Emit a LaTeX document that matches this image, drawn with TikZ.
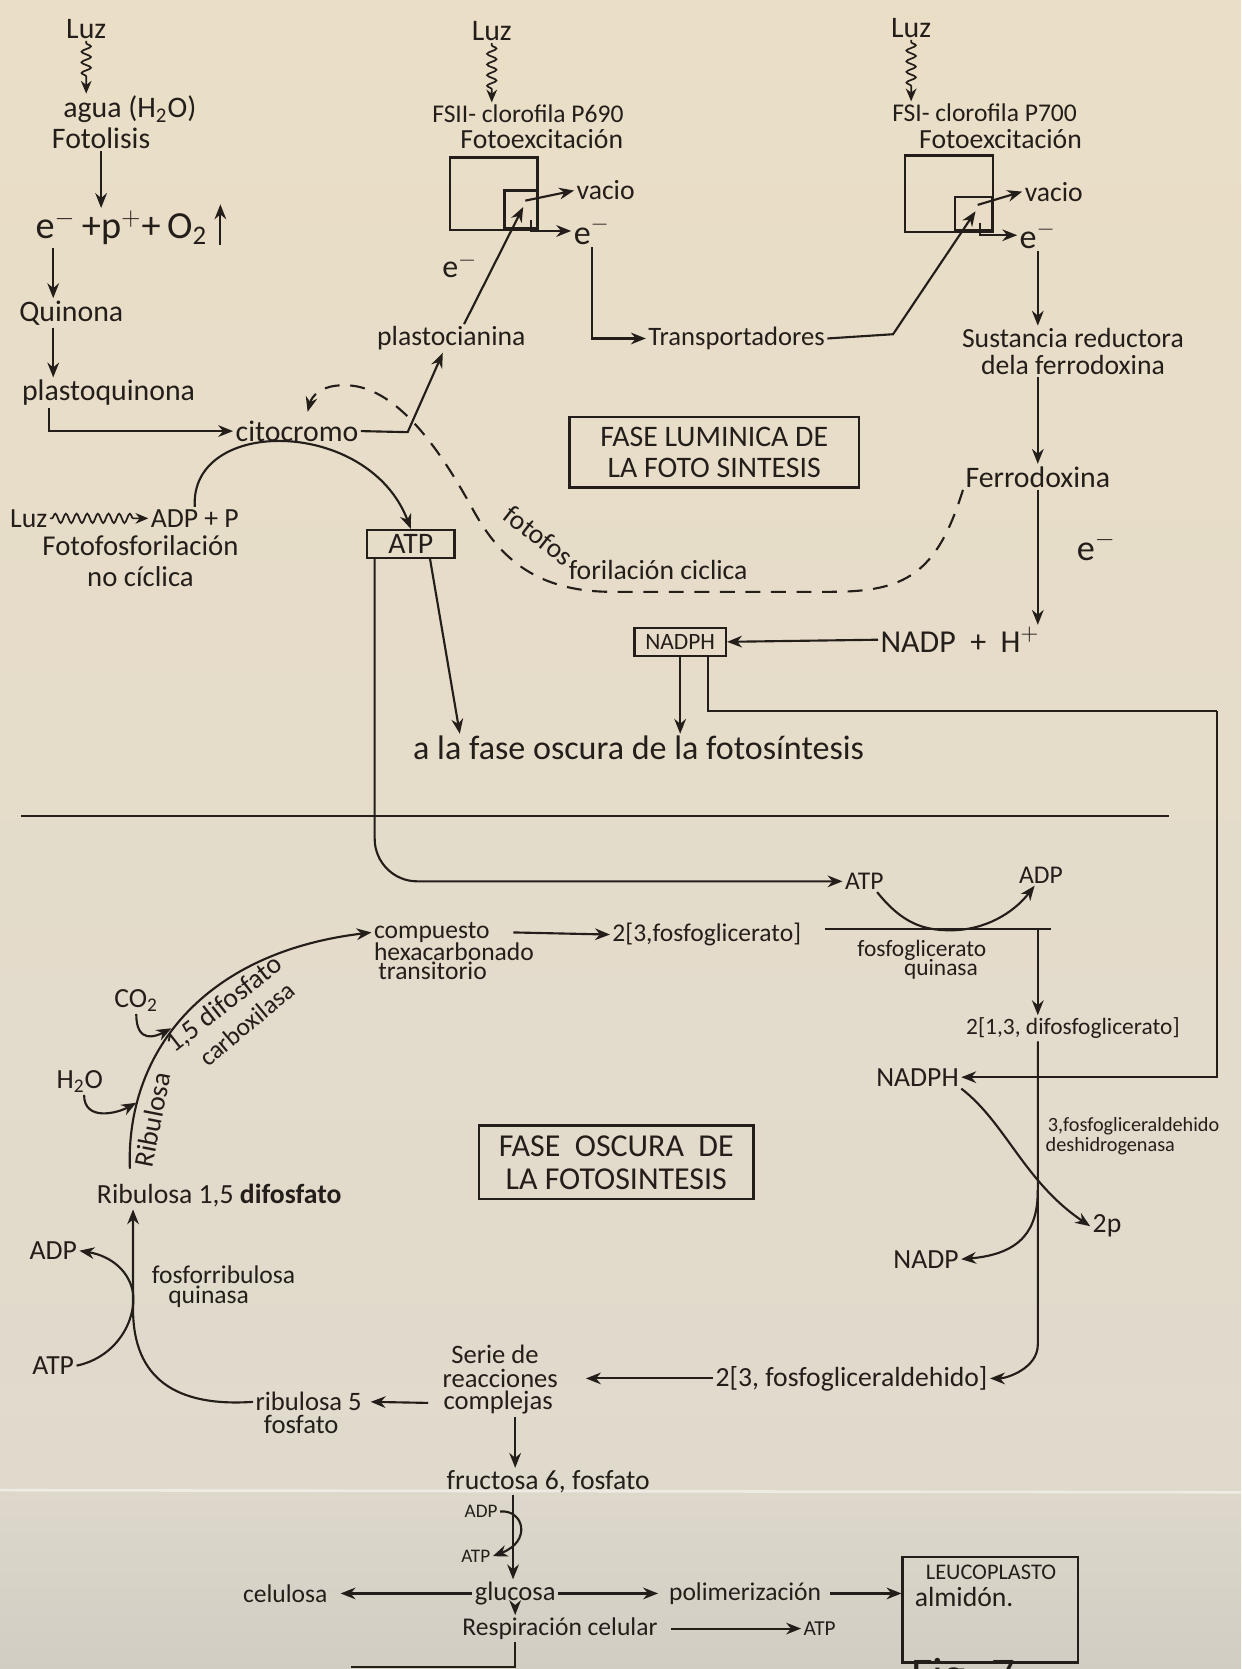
\documentclass[tikz,border=0pt]{standalone}
\usepackage{fontspec}
\setmainfont{Carlito}
\usetikzlibrary{arrows.meta,decorations.pathmorphing,decorations.text,calc}
\definecolor{ink}{RGB}{36,30,26}
\definecolor{paperA}{RGB}{234,222,198}
\definecolor{paperM}{RGB}{224,218,205}
\definecolor{paperB}{RGB}{210,205,195}
\newcommand{\fsBase}{\fontsize{14}{15}\selectfont}
\newcommand{\fsCyc}{\fontsize{13}{13}\selectfont}
\begin{document}
\begin{tikzpicture}[x=0.5pt,y=-0.5pt,
  lbl/.style={inner sep=1pt,text=ink,font=\fsBase},
  fsz/.style={font=\fontsize{#1}{#1}\selectfont},
  arr/.style={draw=ink,line width=1pt,-{Stealth[length=7pt,width=5.5pt]}},
  ln/.style={draw=ink,line width=1pt},
  boxn/.style={draw=ink,line width=1.1pt,inner sep=2pt,text=ink},
  wavy/.style={draw=ink,line width=0.8pt,decorate,decoration={snake,amplitude=2.2pt,segment length=5pt,pre length=1pt,post length=6pt},-{Stealth[length=6pt,width=5pt]}},
  dsh/.style={draw=ink,line width=1pt,dash pattern=on 7pt off 5pt}]
\useasboundingbox (0,0) rectangle (1166,1568);
\shade[top color=paperA,bottom color=paperM] (0,0) rectangle (1166,1400);
\shade[top color=paperM!85!paperB,bottom color=paperB] (0,1400) rectangle (1166,1568);
\draw[white,opacity=0.5,line width=1.2pt] (0,1400) -- (1166,1402);

% ===== light phase, left column
\node[lbl] (luzA) at (81,27) {Luz};
\node[lbl] (agua) at (122,103) {agua (H\textsubscript{2}O)};
\node[lbl] (fotolisis) at (95,130) {Fotolisis};
\draw[wavy] (luzA.south) -- (luzA.south |- agua.north);
\node[lbl,fsz=18,anchor=west] (epo) at (31,214) {e$^{-}$\,+p$^{+}$+\,O\textsubscript{2}};
\draw[arr] ([xshift=5pt,yshift=-8pt]epo.east) -- ++(0,-38);
\draw[arr] (fotolisis.south) -- (fotolisis.south |- epo.north);
\coordinate (gxA) at (50,0);
\node[lbl] (quinona) at (67,294) {Quinona};
\node[lbl] (plastoq) at (102,369) {plastoquinona};
\draw[arr] (epo.south -| gxA) -- (quinona.north -| gxA);
\draw[arr] (quinona.south -| gxA) -- (plastoq.north -| gxA);
\node[lbl] (citocromo) at (279,405) {citocromo};
\coordinate (gxB) at (46,0);
\draw[arr] (plastoq.south -| gxB) |- (citocromo.west);
\node[lbl,fsz=13] (plastoc) at (424,318) {plastocianina};
\coordinate (kinkA) at (383,406);
\draw[arr] (citocromo.east) -- (kinkA) -- ([xshift=-4pt]plastoc.south);

% ===== FS II
\node[lbl] (luzB) at (462,29) {Luz};
\node[lbl,fsz=12] (fs2) at (496,107) {FSII- clorofila P690};
\node[lbl,fsz=13] (foto2) at (509,131) {Fotoexcitación};
\draw[wavy] (luzB.south) -- (luzB.south |- fs2.north);
\node[draw=ink,line width=1.1pt,minimum width=41pt,minimum height=34pt,inner sep=0pt] (fs2big) at (464,182) {};
\node[draw=ink,line width=1.1pt,minimum width=15.5pt,minimum height=17.5pt,inner sep=0pt] (fs2small) at (489.5,196.5) {};
\node[lbl,fsz=13] (vacioA) at (569,179) {vacio};
\node[lbl,fsz=16] (eB) at (556,217) {e$^{-}$};
\draw[arr] ([xshift=2pt,yshift=4pt]fs2small.center) -- (vacioA.west);
\draw[arr] ([xshift=4.5pt,yshift=4pt]fs2small.south) |- (eB.west);
\draw[arr] ([xshift=6pt]plastoc.north) -- ([xshift=1pt,yshift=1pt]fs2small.center);
\node[lbl,fsz=15] (eA) at (432,249) {e$^{-}$};
\node[lbl,fsz=12.5] (transp) at (692,318) {Transportadores};
\draw[arr] (eB.south) |- (transp.west);

% ===== FS I
\node[lbl] (luzC) at (856,26) {Luz};
\node[lbl,fsz=12] (fs1) at (925,106) {FSI- clorofila P700};
\node[lbl,fsz=13] (foto1) at (940,131) {Fotoexcitación};
\draw[wavy] (luzC.south) -- (luzC.south |- fs1.north);
\node[draw=ink,line width=1.1pt,minimum width=41.5pt,minimum height=36pt,inner sep=0pt] (fs1big) at (891.5,182) {};
\node[draw=ink,line width=1.1pt,minimum width=17.5pt,minimum height=15.5pt,inner sep=0pt] (fs1small) at (914.5,200.5) {};
\node[lbl,fsz=13] (vacioB) at (990,180) {vacio};
\node[lbl,fsz=16] (eC) at (975,221) {e$^{-}$};
\draw[arr] ([xshift=2pt,yshift=4pt]fs1small.center) -- (vacioB.west);
\draw[arr] ([xshift=3pt,yshift=4pt]fs1small.south) |- (eC.west);
\coordinate (kinkB) at (839,314);
\draw[arr] (transp.east) -- (kinkB) -- ([xshift=1pt,yshift=1pt]fs1small.center);
\node[lbl,align=center,font=\fontsize{13}{12.5}\selectfont] (sust) at (1008,330) {Sustancia reductora\\dela ferrodoxina};
\draw[arr] (eC.south) -- (eC.south |- sust.north);
\node[lbl] (ferro) at (975,448) {Ferrodoxina};
\draw[arr] (sust.south -| eC.south) -- (ferro.north -| eC.south);
\node[lbl,fsz=15] (nadp) at (902,601) {NADP~ + ~H$^{+}$};
\draw[arr] (ferro.south) -- (ferro.south |- nadp.north);
\node[lbl,fsz=17] (eD) at (1030,513) {e$^{-}$};
\node[boxn,fsz=11,minimum width=43pt,minimum height=13pt] (nadph) at (639,603) {NADPH};
\draw[arr] (nadp.west) -- (nadph.east);

% ===== title box light phase
\node[boxn,align=center,font=\fontsize{14}{14.5}\selectfont,minimum width=136pt,minimum height=33pt] (lumin) at (671,425) {FASE LUMINICA DE\\LA FOTO SINTESIS};

% ===== ATP, ADP+P
\node[boxn,fsz=14,minimum width=41pt,minimum height=12pt] (atp) at (386,511) {ATP};
\node[lbl,fsz=13] (luzD) at (27,487) {Luz};
\node[lbl,fsz=13] (adpp) at (183,487) {ADP + P};
\draw[wavy] (luzD.east) -- (adpp.west);
\node[lbl,align=center,font=\fontsize{13.5}{14.5}\selectfont] (fotofos) at (132,527) {Fotofosforilación\\no cíclica};
\draw[arr] (adpp.north) .. controls +(-5,-85) and +(-40,-105) .. (atp.north);
\node[lbl,fsz=16] (faseosc) at (600,703) {a la fase oscura de la fotosíntesis};
\coordinate (tipc) at (432,0);
\draw[arr] ([xshift=9pt]atp.south) -- (faseosc.north -| tipc);
\draw[arr] (nadph.south) -- (nadph.south |- faseosc.north);
\coordinate (rt) at (1143,668);
\node[lbl,fsz=13] (nadphD) at (862,1012) {NADPH};
\draw[ln] ([xshift=13pt]nadph.south) |- (rt);
\draw[arr] (rt) |- (nadphD.east);
\node[lbl,fsz=12] (atpD) at (812,828) {ATP};
\draw[arr,rounded corners=20pt] ([xshift=-17pt]atp.south) |- (atpD.west);

% ===== cyclic photophosphorylation (dashed)
\draw[dsh,-{Stealth[length=7pt,width=5.5pt]}] (ferro.south west) .. controls (880,540) and (850,556) .. (780,556) -- (575,556) .. controls (505,556) and (470,525) .. (445,480) .. controls (415,425) and (372,360) .. (322,362) .. controls (302,362) and (293,372) .. ([xshift=5pt,yshift=3pt]citocromo.north);
\node[lbl,fsz=13,rotate=-38] (cycA) at (506,503) {fotofos};
\node[lbl,fsz=13,anchor=base west] (cycB) at (532,544) {forilación ciclica};

% ===== divider
\draw[ln] (20,767) -- (1098,767);

% ===== dark phase, top right
\node[lbl,fsz=12] (adpD) at (978,822) {ADP};
\draw[arr] ([xshift=6pt]atpD.south) .. controls (848,868) and (868,874) .. (893,874) .. controls (925,874) and (952,858) .. ([xshift=-3pt]adpD.south);
\node[lbl,fsz=12] (fosfog3) at (664,878) {2[3,fosfoglicerato]};
\coordinate (hl) at (775,873);
\coordinate (hj) at (975,873);
\coordinate (hr) at (987,873);
\draw[ln] (hl) -- (hr);
\node[lbl,fsz=11] (kinA) at (866,893) {fosfoglicerato};
\node[lbl,fsz=11] (kinB) at (884,911) {quinasa};
\node[lbl,fsz=11] (difos) at (1008,966) {2[1,3, difosfoglicerato]};
\draw[arr] (hj) -- (hj |- difos.north);
\node[lbl,fsz=12,anchor=west] (compA) at (349,876) {compuesto};
\node[lbl,fsz=12,anchor=west] (compB) at (349,894) {hexacarbonado};
\node[lbl,fsz=12,anchor=west] (compC) at (353,912) {transitorio};
\draw[arr] ([xshift=10pt]compA.east) -- (fosfog3.west);

% ===== Calvin arc
\coordinate (arcstart) at (122,1098);
\draw[arr] (arcstart) .. controls (118,990) and (190,895) .. (compA.west);
\node[lbl,fsz=13,rotate=79] (arcA) at (143,1052) {Ribulosa};
\node[lbl,fsz=13,rotate=38] (arcB) at (211,944) {1,5 difosfato};
\node[lbl,fsz=12,rotate=40] (arcC) at (232,962) {carboxilasa};
\node[lbl,fsz=13] (co2) at (128,940) {CO\textsubscript{2}};
\coordinate (arcco2) at (161,966);
\draw[arr] (co2.south) .. controls +(0,28) and +(-15,8) .. (arcco2);
\node[lbl,fsz=13] (h2o) at (75,1016) {H\textsubscript{2}O};
\coordinate (arch2o) at (128,1036);
\draw[arr] ([xshift=2pt]h2o.south) .. controls +(0,25) and +(-18,10) .. (arch2o);

\node[boxn,align=center,font=\fontsize{15}{15.5}\selectfont,minimum width=129pt,minimum height=34.5pt] (oscura) at (579,1092) {FASE~ OSCURA~ DE\\LA FOTOSINTESIS};

% ===== right side reduction
\coordinate (vx) at (975,0);
\node[lbl,fsz=13] (fgal) at (800,1295) {2[3, fosfogliceraldehido]};
\draw[arr] (difos.south -| vx) -- ++(0,285) .. controls +(0,22) and +(16,0) .. (fgal.east);
\node[lbl,fsz=13] (twop) at (1040,1152) {2p};
\node[lbl,fsz=13] (nadpD) at (870,1183) {NADP};
\draw[arr] (nadphD.south east) .. controls (945,1055) and (962,1110) .. (twop.west);
\coordinate (vnadp) at (975,1118);
\draw[arr] (vnadp) .. controls (975,1155) and (960,1178) .. (nadpD.east);
\node[lbl,fsz=9.5,anchor=west] (dhA) at (982,1058) {3,fosfogliceraldehido};
\node[lbl,fsz=9.5,anchor=west] (dhB) at (980,1077) {deshidrogenasa};

% ===== regeneration
\node[lbl,fsz=12.5] (serA) at (465,1272) {Serie de};
\node[lbl,fsz=12.5] (serB) at (470,1295) {reacciones};
\node[lbl,fsz=12.5] (serC) at (468,1318) {complejas};
\draw[arr] (fgal.west) -- ([xshift=12pt]serB.east);
\node[lbl,fsz=12.5] (rib5A) at (290,1317) {ribulosa 5};
\node[lbl,fsz=12.5] (rib5B) at (283,1338) {fosfato};
\draw[arr] ([xshift=-6pt]serC.west) -- ([xshift=3pt]rib5A.east);
\node[lbl,fsz=13] (rib15) at (206,1123) {Ribulosa 1,5 \textbf{difosfato}};
\coordinate (rx) at (125,0);
\draw[arr] (rib5A.west) .. controls (165,1322) and (125,1295) .. (125,1230) -- (rib15.south -| rx);
\node[lbl,fsz=13] (adpL) at (50,1175) {ADP};
\node[lbl,fsz=13] (atpL) at (50,1283) {ATP};
\draw[arr] (atpL.east) .. controls (110,1275) and (128,1240) .. (125,1215) .. controls (122,1195) and (105,1180) .. (adpL.east);
\node[lbl,fsz=12] (kinC) at (210,1198) {fosforribulosa};
\node[lbl,fsz=12] (kinD) at (196,1218) {quinasa};

% ===== fructose / glucose
\node[lbl,fsz=13] (fruct) at (515,1392) {fructosa 6, fosfato};
\draw[arr] ([xshift=8pt]serC.south) -- ([xshift=8pt]serC.south |- fruct.north);
\coordinate (gx480) at (482,0);
\node[lbl,fsz=12.5] (gluc) at (484,1497) {glucosa};
\draw[arr] (fruct.south -| gx480) -- (gluc.north -| gx480);
\node[lbl,fsz=9] (adpS) at (452,1420) {ADP};
\node[lbl,fsz=9] (atpS) at (447,1462) {ATP};
\draw[arr] (adpS.east) .. controls (492,1418) and (500,1448) .. (atpS.east);
\node[lbl,fsz=12] (celul) at (268,1497) {celulosa};
\draw[arr] (gluc.west) -- ([xshift=5pt]celul.east);
\node[lbl,fsz=12] (polim) at (700,1497) {polimerización};
\draw[arr] (gluc.east) -- ([xshift=-4pt]polim.west);
\node[draw=ink,line width=1.1pt,minimum width=82.5pt,minimum height=49.5pt,inner sep=0pt] (leuco) at (930.5,1512.5) {};
\node[lbl,fsz=10.5] (leucoT) at (931,1477) {LEUCOPLASTO};
\node[lbl,fsz=13,anchor=west] (almidon) at (857,1500) {almidón.};
\draw[arr] ([xshift=3pt]polim.east) -- (polim.east -| leuco.west);
\node[lbl,fsz=12,anchor=west] (resp) at (432,1530) {Respiración celular};
\draw[arr] (gluc.south) -- (gluc.south |- resp.north);
\node[lbl,fsz=10] (atpR) at (770,1530) {ATP};
\draw[arr] ([xshift=5pt]resp.east) -- (atpR.west);
\coordinate (btm) at (330,1566);
\draw[ln] (resp.south -| gluc.south) |- (btm);
\node[lbl,fsz=22] (fig) at (905,1577) {Fig. 7};
\end{tikzpicture}
\end{document}
